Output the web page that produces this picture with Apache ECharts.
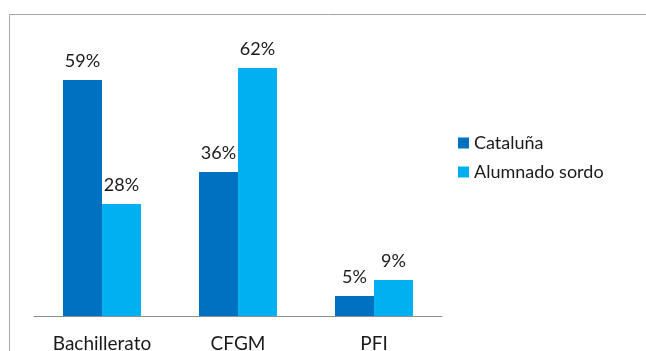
<!DOCTYPE html>
<html>
<head>
<meta charset="utf-8">
<script src="https://cdn.jsdelivr.net/npm/echarts@6/dist/echarts.min.js"></script>
<style>
  html, body { margin: 0; padding: 0; background: #fff; }
  #chart { width: 646px; height: 351px; }
</style>
</head>
<body>
<div id="chart"></div>
<script>
  const categories = ["Bachillerato", "CFGM", "PFI"];
  const cataluna = [59, 36, 5];
  const alumnadoSordo = [28, 62, 9];

  const font = "Lato, 'Open Sans', sans-serif";
  const chart = echarts.init(document.getElementById("chart"));

  const barLabel = {
    show: true,
    position: "top",
    distance: 10,
    formatter: "{c}%",
    color: "#1a1a1a",
    fontSize: 18,
    fontFamily: font,
  };

  chart.setOption({
    animation: false,
    graphic: [
      {
        type: "rect",
        shape: { x: 9.5, y: 14.5, width: 700, height: 400 },
        style: { fill: "none", stroke: "#a6a6a6", lineWidth: 1 },
      },
    ],
    legend: {
      orient: "vertical",
      left: 453,
      top: 129,
      itemWidth: 11,
      itemHeight: 11,
      itemGap: 11,
      icon: "rect",
      textStyle: { fontSize: 18, color: "#1a1a1a", fontFamily: font },
      data: ["Cataluña", "Alumnado sordo"],
    },
    grid: { left: 34, width: 408, top: 36, bottom: 35, outerBoundsMode: "none" },
    xAxis: {
      type: "category",
      data: categories,
      axisLine: { lineStyle: { color: "#8c8c8c" } },
      axisTick: { length: 5, lineStyle: { color: "#8c8c8c" } },
      axisLabel: { color: "#1a1a1a", fontSize: 19, fontFamily: font, margin: 18 },
    },
    yAxis: {
      type: "value",
      min: 0,
      max: 70,
      show: false,
    },
    series: [
      {
        name: "Cataluña",
        type: "bar",
        data: cataluna,
        barWidth: 39,
        barGap: "0%",
        itemStyle: { color: "#0070c0" },
        label: barLabel,
      },
      {
        name: "Alumnado sordo",
        type: "bar",
        data: alumnadoSordo,
        barWidth: 39,
        itemStyle: { color: "#00b0f0" },
        label: barLabel,
      },
    ],
  });
</script>
</body>
</html>
